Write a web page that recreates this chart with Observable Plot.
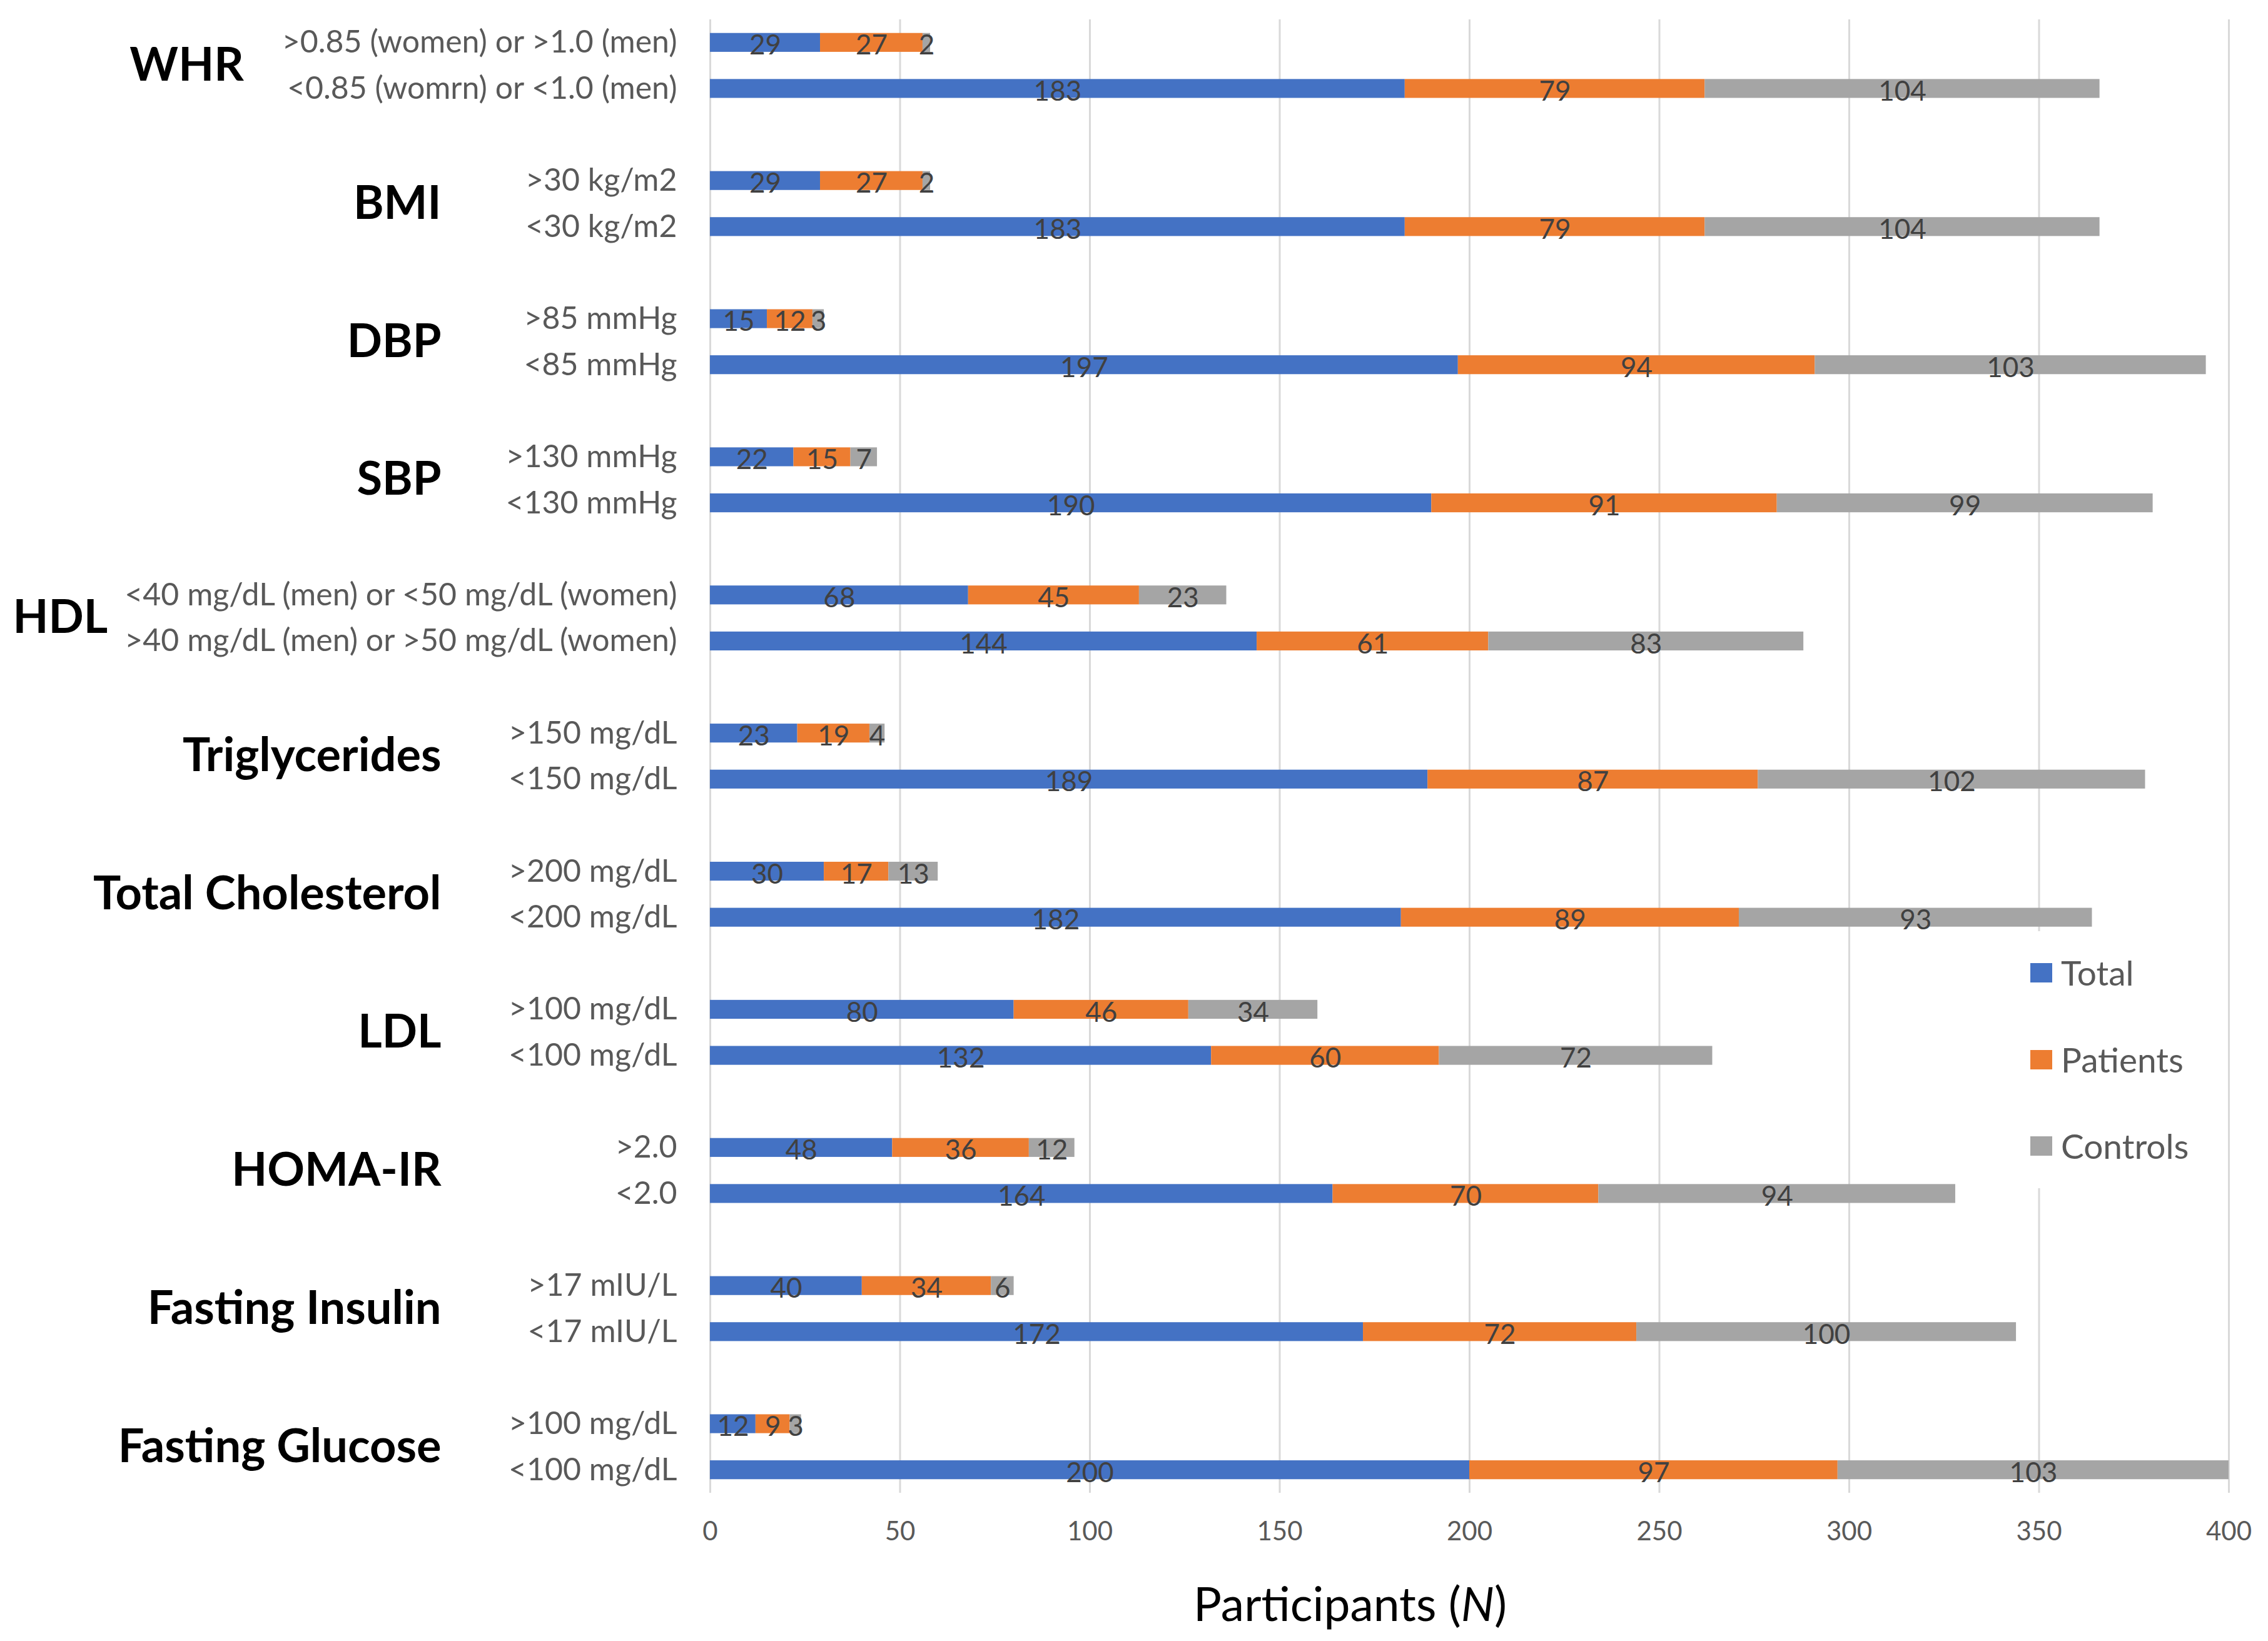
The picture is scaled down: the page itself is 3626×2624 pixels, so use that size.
<!DOCTYPE html>
<html><head><meta charset="utf-8">
<script src="https://cdn.jsdelivr.net/npm/d3@7"></script>
<script src="https://cdn.jsdelivr.net/npm/@observablehq/plot@0.6"></script>
<style>
html,body{margin:0;padding:0;background:#fff;}
#wrap{position:relative;width:3626px;height:2624px;overflow:hidden;}
#legend{position:absolute;left:3226px;top:1489px;width:315px;height:411px;background:#fff;font-family:Lato,sans-serif;}
.item{position:absolute;left:20px;height:80px;display:flex;align-items:center;font-size:55px;color:#595959;}
.sw{width:35px;height:31px;margin-right:14px;}
</style></head><body><div id="wrap"></div>
<script>
// ---- data ----
const groups = ["WHR", "BMI", "DBP", "SBP", "HDL", "Triglycerides", "Total Cholesterol", "LDL", "HOMA-IR", "Fasting Insulin", "Fasting Glucose"];
const firstLabels = [">0.85 (women) or >1.0 (men)", ">30 kg/m2", ">85 mmHg", ">130 mmHg", "<40 mg/dL (men) or <50 mg/dL (women)", ">150 mg/dL", ">200 mg/dL", ">100 mg/dL", ">2.0", ">17 mIU/L", ">100 mg/dL"];
const secondLabels = ["<0.85 (womrn) or <1.0 (men)", "<30 kg/m2", "<85 mmHg", "<130 mmHg", ">40 mg/dL (men) or >50 mg/dL (women)", "<150 mg/dL", "<200 mg/dL", "<100 mg/dL", "<2.0", "<17 mIU/L", "<100 mg/dL"];
const totalFirst    = [29, 29, 15, 22, 68, 23, 30, 80, 48, 40, 12];
const patientsFirst = [27, 27, 12, 15, 45, 19, 17, 46, 36, 34, 9];
const controlsFirst = [2, 2, 3, 7, 23, 4, 13, 34, 12, 6, 3];
const totalSecond    = [183, 183, 197, 190, 144, 189, 182, 132, 164, 172, 200];
const patientsSecond = [79, 79, 94, 91, 61, 87, 89, 60, 70, 72, 97];
const controlsSecond = [104, 104, 103, 99, 83, 102, 93, 72, 94, 100, 103];
const series = ["Total", "Patients", "Controls"];
const colors = ["#4472C4", "#ED7D31", "#A5A5A5"];
const xTicks = [0, 50, 100, 150, 200, 250, 300, 350, 400];
const xTitle = "Participants (N)";

// ---- layout ----
const W = 3626, H = 2624;
const mt = 31, mb = 237, ml = 1135, mr = 63;

const keys = [];
const rows = [];
const labelRows = [];
groups.forEach((g, i) => {
  if (i > 0) keys.push("gap" + i);
  const vals = [
    [totalFirst[i], patientsFirst[i], controlsFirst[i]],
    [totalSecond[i], patientsSecond[i], controlsSecond[i]]
  ];
  [firstLabels[i], secondLabels[i]].forEach((lab, j) => {
    const key = g + "|" + j;
    keys.push(key);
    labelRows.push({key, label: lab});
    series.forEach((s, k) => rows.push({key, series: s, value: vals[j][k]}));
  });
});
const step = (H - mt - mb) / keys.length;

const ctx = document.createElement("canvas").getContext("2d");
const tw = (t, f) => { ctx.font = f; return ctx.measureText(t).width; };

const groupMarks = groups.map((g, i) => {
  const subW = Math.max(tw(firstLabels[i], "50px Lato"), tw(secondLabels[i], "50px Lato"));
  const boldW = tw(g, "bold 74px Lato");
  const right = Math.max(Math.min(705, ml - 53 - subW - 60), boldW + 20);
  return Plot.text([{key: g + "|0", text: g}], {
    y: "key", text: "text", frameAnchor: "left", textAnchor: "end",
    dx: right - ml, dy: step / 2, fontSize: 74, fontWeight: "bold", fill: "black"
  });
});

const svg = Plot.plot({
  width: W, height: H,
  marginTop: mt, marginBottom: mb, marginLeft: ml, marginRight: mr,
  style: {fontFamily: "Lato, sans-serif", background: "white", overflow: "visible"},
  x: {domain: [0, 400], axis: null},
  y: {type: "band", domain: keys, paddingInner: 0.59, paddingOuter: 0.295, round: false, axis: null},
  color: {domain: series, range: colors},
  marks: [
    Plot.gridX(xTicks, {stroke: "#D9D9D9", strokeOpacity: 1, strokeWidth: 3}),
    Plot.axisX(xTicks, {tickSize: 0, tickPadding: 46, fontSize: 42, fill: "#595959", label: null}),
    Plot.barX(rows, {x: "value", y: "key", fill: "series", order: series}),
    Plot.text(rows, Plot.stackX({x: "value", y: "key", z: "series", order: series,
      text: d => String(d.value), fill: "#404040", fontSize: 44, dy: 5})),
    Plot.text(labelRows, {y: "key", text: "label", frameAnchor: "left", textAnchor: "end",
      dx: -53, fontSize: 50, fill: "#595959"}),
    ...groupMarks,
    Plot.text([xTitle], {text: d => d, frameAnchor: "bottom", dx: -191, dy: 180,
      lineAnchor: "middle", fontSize: 75, fill: "black"})
  ]
});

const wrap = document.getElementById("wrap");
wrap.appendChild(svg);

// italic N in axis title
svg.querySelectorAll("text").forEach(t => {
  if (t.textContent === xTitle) {
    const ns = "http://www.w3.org/2000/svg";
    t.textContent = "";
    const parts = [["Participants (", false], ["N", true], [")", false]];
    parts.forEach(([s, it]) => {
      const ts = document.createElementNS(ns, "tspan");
      ts.textContent = s;
      if (it) ts.setAttribute("font-style", "italic");
      t.appendChild(ts);
    });
  }
});

// legend inside the plot area
const legend = document.createElement("div");
legend.id = "legend";
const centers = [66, 205, 343];
series.forEach((s, i) => {
  const item = document.createElement("div");
  item.className = "item";
  item.style.top = (centers[i] - 40) + "px";
  const sw = document.createElement("div");
  sw.className = "sw";
  sw.style.background = colors[i];
  const lab = document.createElement("span");
  lab.textContent = s;
  item.appendChild(sw);
  item.appendChild(lab);
  legend.appendChild(item);
});
wrap.appendChild(legend);
</script></body></html>
